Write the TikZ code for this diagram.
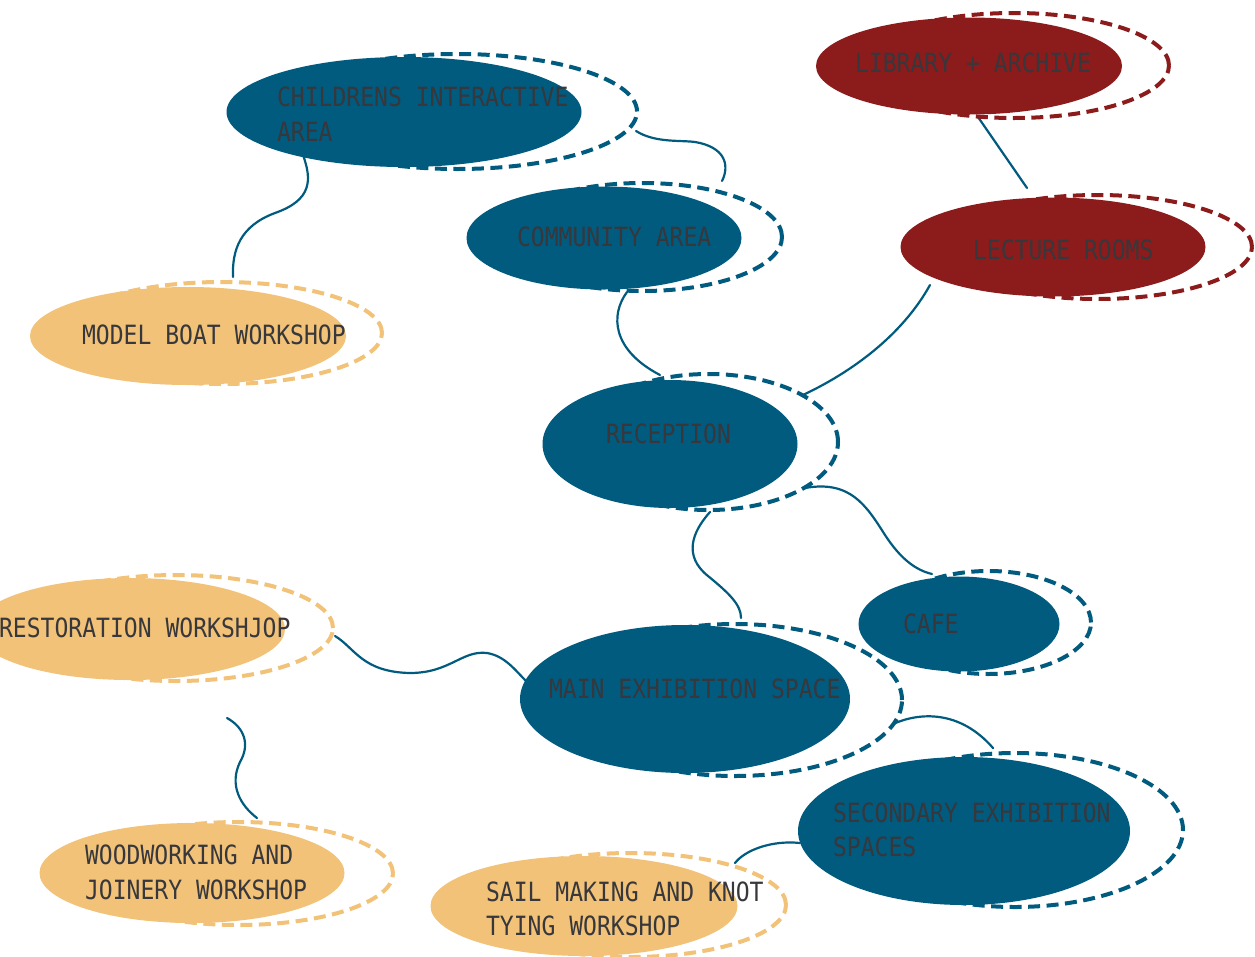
\documentclass[tikz,border=0pt]{standalone}
\usepackage{fontspec}
\usetikzlibrary{shapes.geometric,calc}
\newfontfamily\labfont[FakeStretch=0.87]{DejaVu Sans Mono}
\definecolor{roomblue}{RGB}{0,91,127}
\definecolor{roomred}{RGB}{140,27,27}
\definecolor{roomyellow}{RGB}{241,194,120}
\definecolor{labelgray}{RGB}{55,55,60}
\pgfdeclarelayer{bg}
\pgfsetlayers{bg,main}
\tikzset{
  roomfill/.style={ellipse, inner sep=0pt, outer sep=0pt, draw=none},
  roomring/.style={ellipse, inner sep=0pt, outer sep=0pt, fill=none, line width=4pt, dash pattern=on 12pt off 6.5pt},
  roomlabel/.style={anchor=west, inner sep=0pt, outer sep=0pt, align=left, text depth=0pt, text=labelgray, font=\labfont\fontsize{26.5}{34.5}\selectfont},
  link/.style={draw=roomblue, line width=2.2pt, line cap=round}
}
\begin{document}
\begin{tikzpicture}[x=1pt,y=-1pt]
\useasboundingbox (0,0) rectangle (1255,956);
\clip (0,0) rectangle (1255,956);

% dashed rings
\node[roomring, draw=roomblue, minimum width=359pt, minimum height=115pt] (child-o) at (457.5,111.5) {};
\node[roomring, draw=roomblue, minimum width=279pt, minimum height=108pt] (comm-o) at (642.5,237) {};
\node[roomring, draw=roomred, minimum width=310pt, minimum height=105pt] (lib-o) at (1014,65.5) {};
\node[roomring, draw=roomred, minimum width=309pt, minimum height=104pt] (lect-o) at (1097.5,247) {};
\node[roomring, draw=roomyellow, minimum width=320pt, minimum height=102pt] (model-o) at (222,333) {};
\node[roomring, draw=roomblue, minimum width=259pt, minimum height=136pt] (recep-o) at (708.5,442) {};
\node[roomring, draw=roomblue, minimum width=205pt, minimum height=103pt] (cafe-o) at (988.5,622.5) {};
\node[roomring, draw=roomyellow, minimum width=314pt, minimum height=106pt] (resto-o) at (176,628) {};
\node[roomring, draw=roomblue, minimum width=334pt, minimum height=152pt] (main-o) at (735,700) {};
\node[roomring, draw=roomblue, minimum width=336pt, minimum height=154pt] (second-o) at (1015,830) {};
\node[roomring, draw=roomyellow, minimum width=309pt, minimum height=103pt] (wood-o) at (238.5,873.5) {};
\node[roomring, draw=roomyellow, minimum width=311pt, minimum height=104pt] (sail-o) at (630.5,905) {};

% filled rooms
\node[roomfill, fill=roomblue, minimum width=355pt, minimum height=110pt] (child) at (404,112) {};
\node[roomfill, fill=roomblue, minimum width=275pt, minimum height=103pt] (comm) at (604,238) {};
\node[roomfill, fill=roomred, minimum width=306pt, minimum height=97pt] (lib) at (969,66) {};
\node[roomfill, fill=roomred, minimum width=305pt, minimum height=99pt] (lect) at (1053,247) {};
\node[roomfill, fill=roomyellow, minimum width=316pt, minimum height=98pt] (model) at (188,336) {};
\node[roomfill, fill=roomblue, minimum width=255pt, minimum height=128pt] (recep) at (670,444) {};
\node[roomfill, fill=roomblue, minimum width=201pt, minimum height=95pt] (cafe) at (959,624) {};
\node[roomfill, fill=roomyellow, minimum width=310pt, minimum height=102pt] (resto) at (130,629) {};
\node[roomfill, fill=roomblue, minimum width=330pt, minimum height=148pt] (main) at (685,699) {};
\node[roomfill, fill=roomblue, minimum width=332pt, minimum height=148pt] (second) at (964,831) {};
\node[roomfill, fill=roomyellow, minimum width=305pt, minimum height=100pt] (wood) at (192,873) {};
\node[roomfill, fill=roomyellow, minimum width=307pt, minimum height=100pt] (sail) at (584,906) {};

% labels
\node[roomlabel] (child-t) at (277,114) {CHILDRENS INTERACTIVE\\AREA};
\node[roomlabel] (comm-t) at (517,237) {COMMUNITY AREA};
\node[roomlabel] (lib-t) at (855,63) {LIBRARY + ARCHIVE};
\node[roomlabel] (lect-t) at (973,250) {LECTURE ROOMS};
\node[roomlabel] (model-t) at (82,335) {MODEL BOAT WORKSHOP};
\node[roomlabel] (recep-t) at (606,434) {RECEPTION};
\node[roomlabel] (cafe-t) at (903,624) {CAFE};
\node[roomlabel] (resto-t) at (-1,628) {RESTORATION WORKSHJOP};
\node[roomlabel] (main-t) at (549,689) {MAIN EXHIBITION SPACE};
\node[roomlabel] (second-t) at (833,829.5) {SECONDARY EXHIBITION\\SPACES};
\node[roomlabel] (wood-t) at (85,872) {WOODWORKING AND\\JOINERY WORKSHOP};
\node[roomlabel] (sail-t) at (486,908.5) {SAIL MAKING AND KNOT\\TYING WORKSHOP};

\coordinate (loose) at (227,718);

% connectors
\begin{pgfonlayer}{bg}
\draw[link] ($(child)+(-101,43)$) .. controls (312,180) and (312,200) .. (275,213)
  .. controls (240,226) and (232,250) .. ($(model)+(45,-59)$);
\draw[link] ($(child)+(232,19)$) .. controls (655,143) and (680,140) .. (695,142)
  .. controls (725,147) and (730,165) .. ($(comm)+(118,-57)$);
\draw[link] ($(comm)+(23,54)$) .. controls (610,315) and (612,350) .. ($(recep)+(-10,-69)$);
\draw[link] ($(lib)+(9,51)$) -- ($(lect)+(-26,-59)$);
\draw[link] ($(lect)+(-123,38)$) .. controls (905,330) and (860,368) .. ($(recep)+(133,-49)$);
\draw[link] ($(recep)+(40,68)$) .. controls (692,532) and (683,556) .. (708,576)
  .. controls (730,594) and (741,605) .. ($(main)+(56,-81)$);
\draw[link] ($(recep)+(135,44)$) .. controls (850,480) and (866,505) .. (885,535)
  .. controls (900,558) and (915,570) .. ($(cafe)+(-27,-50)$);
\draw[link] ($(resto)+(205,7)$) .. controls (355,648) and (362,672) .. (410,673)
  .. controls (450,673) and (462,650) .. (487,653)
  .. controls (505,656) and (515,670) .. ($(main)+(-158,-17)$);
\draw[link] ($(main)+(208,25)$) .. controls (920,712) and (960,710) .. ($(second)+(29,-83)$);
\draw[link] (loose) .. controls (245,728) and (250,745) .. (240,762)
  .. controls (229,785) and (240,805) .. ($(wood)+(65,-55)$);
\draw[link] ($(second)+(-164,12)$) .. controls (772,840) and (745,850) .. ($(sail)+(151,-43)$);
\end{pgfonlayer}
\end{tikzpicture}
\end{document}
